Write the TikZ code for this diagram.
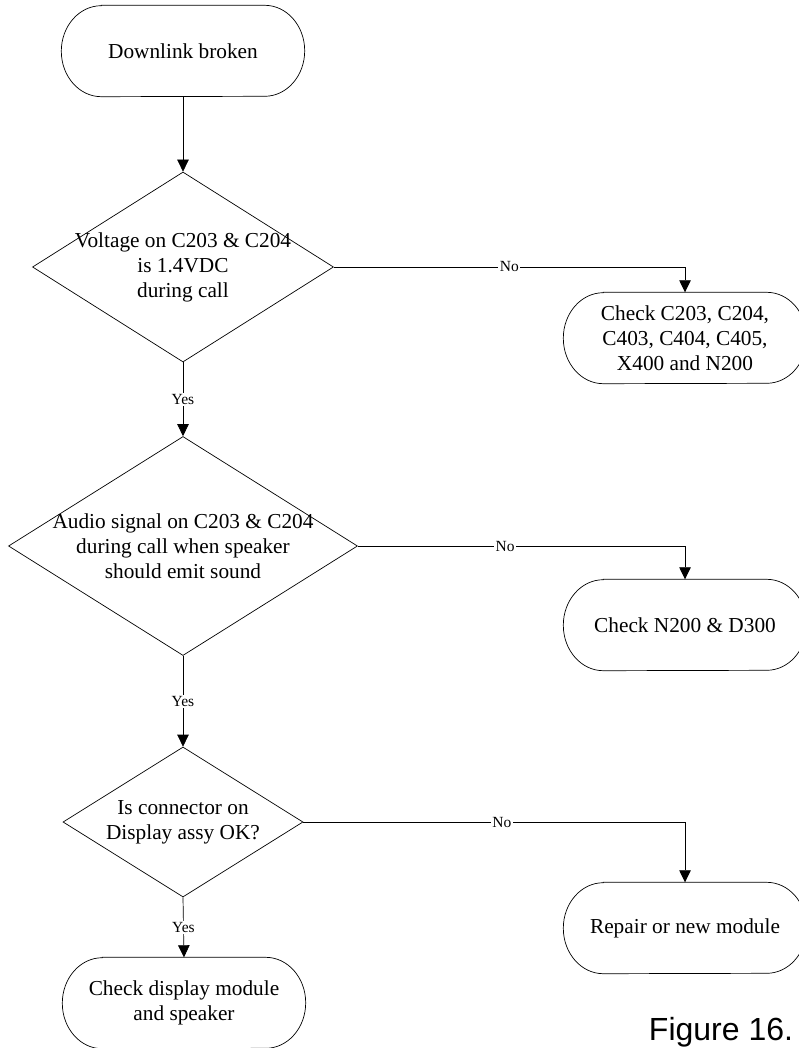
\documentclass[tikz,border=0pt]{standalone}
\usepackage{fontspec}
\setmainfont{Liberation Serif}
\newfontfamily\figfont{Liberation Sans}
\usetikzlibrary{shapes.geometric,arrows.meta}
\tikzset{
  term/.style={rectangle, minimum width=243pt, minimum height=91pt, inner sep=0pt, align=center, font=\fontsize{21.3}{25}\selectfont},
  dec/.style={diamond, draw, line width=0.7pt, inner sep=0pt},
  dtext/.style={align=center, font=\fontsize{21.3}{25}\selectfont, inner sep=0pt},
  conn/.style={line width=0.7pt, -{Triangle[length=12pt,width=11.5pt]}},
  lbl/.style={fill=white, inner sep=1.5pt, font=\fontsize{15.5}{17}\selectfont}
}
\begin{document}
\begin{tikzpicture}[x=1pt,y=1pt]
\useasboundingbox (0,0) rectangle (799,-1048);
% terminals
\node[term] (start) at (183,-51) {Downlink broken};
\node[term] (c1) at (685,-338) {Check C203, C204,\\C403, C404, C405,\\X400 and N200};
\node[term] (c2) at (685,-625) {Check N200 \& D300};
\node[term] (c3) at (685,-928) {Repair or new module};
\node[term] (c4) at (184,-1003) {Check display module\\and speaker};
\foreach \n in {start,c1,c2,c3,c4}{
  \draw[line width=0.7pt] ([xshift=40pt]\n.north west) -- ([xshift=-40pt]\n.north east)
    arc[start angle=90, end angle=-90, x radius=40pt, y radius=45.5pt]
    -- ([xshift=40pt]\n.south west)
    arc[start angle=270, end angle=90, x radius=40pt, y radius=45.5pt] -- cycle;
}
% decisions
\node[dec, minimum width=301pt, minimum height=190pt] (d1) at (183,-267) {};
\node[dtext] (t1) at (d1.center) {Voltage on C203 \& C204\\is 1.4VDC\\during call};
\node[dec, minimum width=349pt, minimum height=219pt] (d2) at (183,-546) {};
\node[dtext] (t2) at (d2.center) {Audio signal on C203 \& C204\\during call when speaker\\should emit sound};
\node[dec, minimum width=240pt, minimum height=150pt] (d3) at (183,-822) {};
\node[dtext] (t3) at (d3.center) {Is connector on\\Display assy OK?};
% connectors
\draw[conn] (start.south) -- (d1.north);
\draw[conn] (d1.east) -| node[lbl, pos=0.25] {No} (c1.north);
\draw[conn] (d1.south) -- node[lbl, pos=0.5] {Yes} (d2.north);
\draw[conn] (d2.east) -| node[lbl, pos=0.225] {No} (c2.north);
\draw[conn] (d2.south) -- node[lbl, pos=0.5] {Yes} (d3.north);
\draw[conn] (d3.east) -| node[lbl, pos=0.26] {No} (c3.north);
\draw[conn] (d3.south) -- node[lbl, pos=0.5] {Yes} (c4.north);
% caption
\node[anchor=base, font=\figfont\fontsize{32}{35}\selectfont, inner sep=0pt] (fig) at (721,-1040) {Figure 16.};
\end{tikzpicture}
\end{document}
